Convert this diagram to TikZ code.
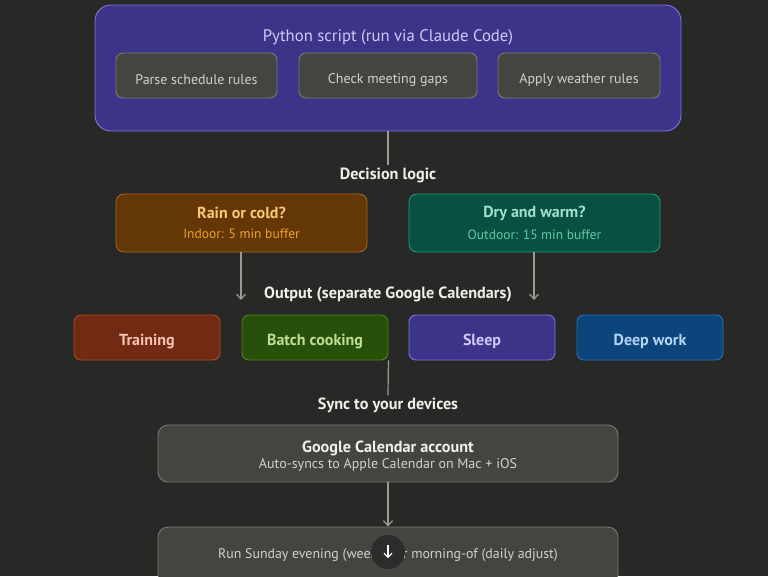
\documentclass[tikz,border=0pt]{standalone}
\usepackage{fontspec}
\setmainfont{PT Sans}
\usetikzlibrary{arrows.meta}
\definecolor{bgcol}{HTML}{282826}
\definecolor{linecol}{HTML}{9C9A92}
\definecolor{purplefill}{HTML}{3C3489}
\definecolor{purpleline}{HTML}{7F77DD}
\definecolor{purpletext}{HTML}{CECBF6}
\definecolor{grayfill}{HTML}{444441}
\definecolor{grayline}{HTML}{7A7974}
\definecolor{graytext}{HTML}{D3D1C7}
\definecolor{amberfill}{HTML}{633806}
\definecolor{amberline}{HTML}{A8681A}
\definecolor{ambertitle}{HTML}{FAC775}
\definecolor{ambersub}{HTML}{EF9F27}
\definecolor{tealfill}{HTML}{085041}
\definecolor{tealline}{HTML}{1D9E75}
\definecolor{tealtitle}{HTML}{9FE1CB}
\definecolor{tealsub}{HTML}{5DCAA5}
\definecolor{coralfill}{HTML}{712B13}
\definecolor{coralline}{HTML}{B04A26}
\definecolor{coraltext}{HTML}{F5C4B3}
\definecolor{greenfill}{HTML}{27500A}
\definecolor{greenline}{HTML}{4F8419}
\definecolor{greentext}{HTML}{C0DD97}
\definecolor{bluefill}{HTML}{0C447C}
\definecolor{blueline}{HTML}{2A70BC}
\definecolor{bluetext}{HTML}{B5D4F4}
\definecolor{headtext}{HTML}{F1EFE8}
\newcommand{\lowered}[1]{\raisebox{-4pt}[\height][\depth]{#1}}
\tikzset{
  box/.style={draw, line width=0.9pt, rounded corners=7pt, inner sep=0pt, align=center},
  stepbox/.style={box, fill=grayfill, draw=grayline, text=graytext,
    minimum height=45pt, font=\fontsize{14}{17}\selectfont},
  outbox/.style={box, minimum width=146pt, minimum height=45pt,
    font=\fontsize{16}{19}\selectfont\bfseries},
  caseline/.style={box, minimum width=251pt, minimum height=58pt, rounded corners=8pt},
  heading/.style={text=headtext, inner sep=2pt, font=\fontsize{16.2}{19}\selectfont\bfseries},
  conn/.style={draw=linecol, line width=1.2pt},
  arr/.style={conn, -{Straight Barb[length=5pt,width=9pt,line width=1.2pt]}}
}
\begin{document}
\begin{tikzpicture}[x=1pt,y=-1pt]
\fill[bgcol] (0,0) rectangle (768,576);
\useasboundingbox (0,0) rectangle (768,576);
\clip (0,0) rectangle (768,576);

% script block
\node[box, fill=purplefill, draw=purpleline, rounded corners=16pt,
  minimum width=586pt, minimum height=126pt] (script) at (388,68) {};
\node[text=purpletext, font=\fontsize{16.7}{19}\selectfont] (scripttitle) at (388,37) {Python script (run via Claude Code)};
\node[stepbox, minimum width=161pt] (parse) at (196.5,75.5) {\lowered{Parse schedule rules}};
\node[stepbox, minimum width=178pt] (gaps) at (388,75.5) {\lowered{Check meeting gaps}};
\node[stepbox, minimum width=162pt] (weather) at (579,75.5) {\lowered{Apply weather rules}};

% decision
\node[heading] (declbl) at (388,175) {Decision logic};
\draw[conn] (script.south) -- (declbl.north);
\node[caseline, fill=amberfill, draw=amberline] (rain) at (241.5,223)
  {{\fontsize{16}{19}\selectfont\bfseries\color{ambertitle}Rain or cold?}\\[8pt]
   {\fontsize{13.5}{16}\selectfont\color{ambersub}Indoor: 5 min buffer}};
\node[caseline, fill=tealfill, draw=tealline] (dry) at (534.5,223)
  {{\fontsize{16}{19}\selectfont\bfseries\color{tealtitle}Dry and warm?}\\[8pt]
   {\fontsize{13.5}{16}\selectfont\color{tealsub}Outdoor: 15 min buffer}};

% output calendars
\node[heading] (outlbl) at (388,294) {Output (separate Google Calendars)};
\coordinate (rainend) at (241,300);
\coordinate (dryend) at (534,300);
\draw[arr] (rain.south -| rainend) -- (rainend);
\draw[arr] (dry.south -| dryend) -- (dryend);
\node[outbox, fill=coralfill, draw=coralline, text=coraltext] (training) at (147,337.5) {\lowered{Training}};
\node[outbox, fill=greenfill, draw=greenline, text=greentext] (batch) at (315,337.5) {\lowered{Batch cooking}};
\node[outbox, fill=purplefill, draw=purpleline, text=purpletext] (sleep) at (482,337.5) {\lowered{Sleep}};
\node[outbox, fill=bluefill, draw=blueline, text=bluetext] (deep) at (650,337.5) {\lowered{Deep work}};

% sync
\node[heading] (synclbl) at (388,405) {Sync to your devices};
\draw[conn] (batch.south east) -- (synclbl.north);
\node[box, fill=grayfill, draw=grayline, minimum width=460pt, minimum height=57pt, rounded corners=10pt] (google) at (388,453.5)
  {{\rule{0pt}{17pt}\fontsize{16.2}{19}\selectfont\bfseries\color{headtext}Google Calendar account}\\[2pt]
   {\fontsize{14}{17}\selectfont\color{graytext}Auto-syncs to Apple Calendar on Mac + iOS}};
\node[box, fill=grayfill, draw=grayline, minimum width=460pt, minimum height=57pt, rounded corners=10pt,
  text=graytext, font=\fontsize{13.9}{17}\selectfont] (run) at (388,555.5)
  {Run Sunday evening (weekly) or morning-of (daily adjust)};
\draw[arr] (google.south) -- (run.north);

% scroll button
\node[circle, fill=bgcol!85!grayfill, minimum size=34pt, inner sep=0pt] (scroll) at (388,552) {};
\draw[line width=1.2pt, white, -{Straight Barb[length=4pt,width=8pt,line width=1.2pt]}]
  ([yshift=7pt]scroll.center) -- ([yshift=-6pt]scroll.center);
\end{tikzpicture}
\end{document}
